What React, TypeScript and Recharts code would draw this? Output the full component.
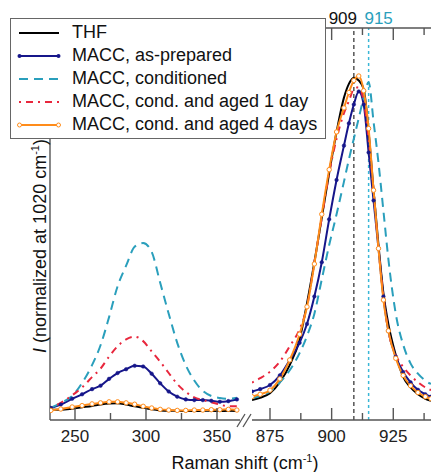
import React from 'react';
import { LineChart, Line, XAxis, YAxis, ReferenceLine } from 'recharts';

// low-frequency window (cm-1)
const lowShift = [233, 240, 248, 255, 262, 268, 274, 280, 286, 292, 298, 304, 310, 316, 322, 328, 334, 340, 346, 352, 358, 364];
const lowTHF = [0.03, 0.03, 0.033, 0.037, 0.041, 0.045, 0.048, 0.049, 0.045, 0.04, 0.036, 0.031, 0.028, 0.027, 0.027, 0.026, 0.026, 0.027, 0.027, 0.026, 0.027, 0.026];
const lowPrepared = [0.035, 0.045, 0.062, 0.075, 0.09, 0.1, 0.12, 0.137, 0.148, 0.158, 0.156, 0.135, 0.107, 0.083, 0.068, 0.06, 0.058, 0.058, 0.056, 0.053, 0.055, 0.06];
const lowConditioned = [0.036, 0.05, 0.07, 0.108, 0.16, 0.218, 0.3, 0.39, 0.45, 0.505, 0.516, 0.49, 0.4, 0.31, 0.225, 0.16, 0.115, 0.085, 0.07, 0.064, 0.062, 0.065];
const lowAged1 = [0.035, 0.05, 0.072, 0.095, 0.125, 0.15, 0.185, 0.215, 0.235, 0.243, 0.23, 0.2, 0.17, 0.137, 0.105, 0.082, 0.066, 0.058, 0.052, 0.045, 0.04, 0.04];
const lowAged4 = [0.028, 0.032, 0.038, 0.042, 0.047, 0.05, 0.053, 0.053, 0.05, 0.046, 0.04, 0.035, 0.031, 0.029, 0.028, 0.028, 0.029, 0.029, 0.03, 0.03, 0.031, 0.029];

// C-O-C stretch window (cm-1)
const highShift = [867.7, 871, 875, 879, 883, 887, 890, 893, 896, 899, 902, 905, 907, 909, 911, 913, 915, 917, 919, 921, 923, 926, 929, 932, 935, 938, 940.3];
const highTHF = [0.058, 0.065, 0.078, 0.11, 0.16, 0.235, 0.34, 0.46, 0.59, 0.72, 0.84, 0.94, 0.98, 0.998, 0.99, 0.965, 0.84, 0.67, 0.51, 0.37, 0.28, 0.19, 0.126, 0.095, 0.075, 0.062, 0.056];
const highPrepared = [0.083, 0.09, 0.102, 0.13, 0.175, 0.225, 0.28, 0.36, 0.46, 0.585, 0.7, 0.8, 0.865, 0.92, 0.958, 0.92, 0.78, 0.64, 0.5, 0.36, 0.26, 0.185, 0.14, 0.11, 0.088, 0.075, 0.068];
const highConditioned = [0.063, 0.07, 0.083, 0.11, 0.145, 0.195, 0.245, 0.31, 0.41, 0.51, 0.6, 0.695, 0.76, 0.82, 0.88, 0.94, 0.985, 0.87, 0.75, 0.61, 0.47, 0.31, 0.22, 0.165, 0.135, 0.115, 0.105];
const highAged1 = [0.109, 0.122, 0.141, 0.17, 0.215, 0.265, 0.33, 0.46, 0.59, 0.72, 0.82, 0.895, 0.93, 0.965, 0.97, 0.93, 0.82, 0.67, 0.5, 0.36, 0.26, 0.19, 0.155, 0.13, 0.11, 0.095, 0.087];
const highAged4 = [0.068, 0.075, 0.087, 0.12, 0.175, 0.25, 0.33, 0.455, 0.6, 0.73, 0.84, 0.91, 0.955, 0.99, 1.003, 0.96, 0.85, 0.67, 0.5, 0.35, 0.26, 0.18, 0.13, 0.1, 0.08, 0.068, 0.062];

const lowTicks = [250, 275, 300, 325, 350];
const lowLabels = [250, 300, 350];
const highTicks = [875, 887.5, 900, 912.5, 925, 937.5];
const highLabels = [875, 900, 925];
const peakMarks = [909, 915];

const FONT = '"Liberation Sans", Arial, sans-serif';
const AXIS = '#555';
const C_THF = '#000000';
const C_PREP = '#16168a';
const C_COND = '#2a9fbc';
const C_AGED1 = '#e8273d';
const C_AGED4 = '#ff8c1a';

const series = [
  { key: 'thf', name: 'THF', color: C_THF, dash: undefined, dot: 'none' },
  { key: 'prep', name: 'MACC, as-prepared', color: C_PREP, dash: undefined, dot: 'filled' },
  { key: 'cond', name: 'MACC, conditioned', color: C_COND, dash: '9 6', dot: 'none' },
  { key: 'aged1', name: 'MACC, cond. and aged 1 day', color: C_AGED1, dash: '2 5 7 5', dot: 'none' },
  { key: 'aged4', name: 'MACC, cond. and aged 4 days', color: C_AGED4, dash: undefined, dot: 'open' },
];

const lowData = lowShift.map((x, i) => ({
  x, thf: lowTHF[i], prep: lowPrepared[i], cond: lowConditioned[i], aged1: lowAged1[i], aged4: lowAged4[i],
}));
const highData = highShift.map((x, i) => ({
  x, thf: highTHF[i], prep: highPrepared[i], cond: highConditioned[i], aged1: highAged1[i], aged4: highAged4[i],
}));

const Y_MAX = 1.143;

function AxisTick(props: any) {
  const { x, y, payload, labels, down } = props;
  const major = labels.includes(payload.value);
  const len = major ? 12 : 7;
  return (
    <g>
      <line x1={x} x2={x} y1={y} y2={down ? y + len : y - len} stroke={AXIS} strokeWidth={1.4} />
      {!down && major && (
        <text x={x} y={y + 22} textAnchor="middle" fontSize={17} fontFamily={FONT} fill="#222">
          {payload.value}
        </text>
      )}
    </g>
  );
}

function dotFor(kind: string, color: string) {
  if (kind === 'filled') return { r: 1.8, fill: color, stroke: color, strokeWidth: 0.5 };
  if (kind === 'open') return { r: 2.2, fill: '#fff', stroke: color, strokeWidth: 1 };
  return false;
}

function renderLines() {
  return series.map(s => (
    <Line
      key={s.key}
      xAxisId="b"
      type="monotone"
      dataKey={s.key}
      stroke={s.color}
      strokeWidth={2}
      strokeDasharray={s.dash}
      dot={dotFor(s.dot, s.color) as any}
      isAnimationActive={false}
    />
  ));
}

function LegendSample({ s }: { s: any }) {
  return (
    <svg width={44} height={10} style={{ position: 'absolute', left: 6, top: -5 }}>
      <line x1={2} x2={42} y1={5} y2={5} stroke={s.color} strokeWidth={2} strokeDasharray={s.dash} />
      {s.dot === 'filled' && <><circle cx={2.5} cy={5} r={2} fill={s.color} /><circle cx={41.5} cy={5} r={2} fill={s.color} /></>}
      {s.dot === 'open' && <><circle cx={2.5} cy={5} r={2} fill="#fff" stroke={s.color} /><circle cx={41.5} cy={5} r={2} fill="#fff" stroke={s.color} /></>}
    </svg>
  );
}

export default function App() {
  return (
    <div style={{ position: 'absolute', left: 0, top: 0, width: 431, height: 472, overflow: 'hidden', background: '#fff', fontFamily: FONT }}>
      {/* left panel */}
      <div style={{ position: 'absolute', left: 0, top: 0 }}>
        <LineChart width={240} height={472} data={lowData} margin={{ top: 28, right: 0, bottom: 0, left: 0 }}>
          <XAxis
            xAxisId="b"
            dataKey="x"
            type="number"
            domain={[232.4, 366.2]}
            allowDataOverflow
            ticks={lowTicks}
            interval={0}
            height={52}
            tickSize={0}
            tickMargin={0}
            axisLine={{ stroke: AXIS, strokeWidth: 1.4 }}
            tick={(p: any) => <AxisTick {...p} labels={lowLabels} />}
          />
          <YAxis width={50} domain={[0, Y_MAX]} allowDataOverflow tick={false} tickLine={false} axisLine={{ stroke: AXIS, strokeWidth: 1.4 }} />
          {renderLines()}
        </LineChart>
      </div>

      {/* right panel */}
      <div style={{ position: 'absolute', left: 252, top: 0 }}>
        <LineChart width={179} height={472} data={highData} margin={{ top: 0, right: 0, bottom: 0, left: 0 }}>
          <XAxis
            xAxisId="b"
            dataKey="x"
            type="number"
            domain={[867.7, 940.3]}
            allowDataOverflow
            ticks={highTicks}
            interval={0}
            height={52}
            tickSize={0}
            tickMargin={0}
            axisLine={{ stroke: AXIS, strokeWidth: 1.4 }}
            tick={(p: any) => <AxisTick {...p} labels={highLabels} />}
          />
          <XAxis
            xAxisId="t"
            orientation="top"
            dataKey="x"
            type="number"
            domain={[867.7, 940.3]}
            allowDataOverflow
            ticks={highTicks}
            interval={0}
            height={28}
            tickSize={0}
            tickMargin={0}
            axisLine={{ stroke: AXIS, strokeWidth: 1.4 }}
            tick={(p: any) => <AxisTick {...p} labels={highLabels} down />}
          />
          <YAxis hide domain={[0, Y_MAX]} allowDataOverflow />
          <ReferenceLine
            xAxisId="b"
            x={peakMarks[0]}
            stroke="#555"
            strokeWidth={1.5}
            strokeDasharray="4 3"
            label={{ value: String(peakMarks[0]), position: 'top', dx: -11, offset: 4, fill: '#111', fontSize: 17, fontFamily: FONT }}
          />
          <ReferenceLine
            xAxisId="b"
            x={peakMarks[1]}
            stroke="#3ab6d6"
            strokeWidth={1.5}
            strokeDasharray="3 3"
            label={{ value: String(peakMarks[1]), position: 'top', dx: 10, offset: 4, fill: C_COND, fontSize: 17, fontFamily: FONT }}
          />
          {renderLines()}
        </LineChart>
      </div>

      {/* axis break marks */}
      <svg width={431} height={472} style={{ position: 'absolute', left: 0, top: 0, pointerEvents: 'none' }}>
        <line x1={237} y1={427} x2={245} y2={414} stroke={AXIS} strokeWidth={1.3} />
        <line x1={243} y1={427} x2={251} y2={414} stroke={AXIS} strokeWidth={1.3} />
      </svg>

      {/* legend */}
      <div style={{ position: 'absolute', left: 10, top: 18, width: 314, height: 119, border: '1px solid #666', background: '#fff' }}>
        {series.map((s, i) => (
          <div key={s.key} style={{ position: 'absolute', left: 0, top: 14 + i * 23, height: 0 }}>
            <LegendSample s={s} />
            <span style={{ position: 'absolute', left: 61, top: -11, fontSize: 18, lineHeight: '20px', whiteSpace: 'nowrap', color: '#111' }}>{s.name}</span>
          </div>
        ))}
      </div>

      {/* axis titles */}
      <div style={{ position: 'absolute', left: 40, top: 246, transform: 'translate(-50%, -50%) rotate(-90deg)', whiteSpace: 'nowrap', fontSize: 18, color: '#111' }}>
        <i>I</i> (normalized at 1020 cm<sup style={{ fontSize: 11 }}>-1</sup>)
      </div>
      <div style={{ position: 'absolute', left: 245, top: 463, transform: 'translate(-50%, -50%)', whiteSpace: 'nowrap', fontSize: 18, color: '#111' }}>
        Raman shift (cm<sup style={{ fontSize: 11 }}>-1</sup>)
      </div>
    </div>
  );
}
